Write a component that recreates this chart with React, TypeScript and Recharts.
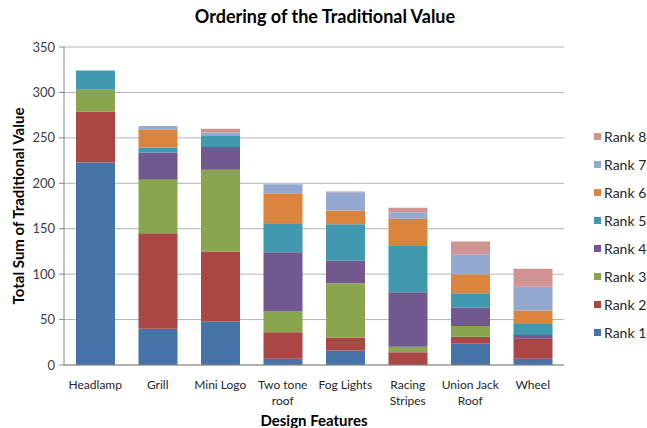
import React from 'react';
import { BarChart, Bar, XAxis, YAxis, CartesianGrid } from 'recharts';

const categories = ['Headlamp', 'Grill', 'Mini Logo', 'Two tone roof', 'Fog Lights', 'Racing Stripes', 'Union Jack Roof', 'Wheel'];
const rank1 = [223, 40, 48, 7, 16, 0, 24, 7];
const rank2 = [56, 105, 77, 29, 14, 14, 7, 22];
const rank3 = [24, 59, 90, 23, 60, 6, 12, 0];
const rank4 = [0, 30, 25, 65, 25, 60, 20, 4];
const rank5 = [21, 5, 12, 32, 40, 51, 16, 12];
const rank6 = [0, 20, 0, 33, 15, 30, 21, 15];
const rank7 = [0, 4, 4, 10, 20, 7, 22, 26];
const rank8 = [0, 0, 4, 0, 1, 5, 14, 20];
const yTicks = [0, 50, 100, 150, 200, 250, 300, 350];

const series = [
  { key: 'Rank 1', values: rank1, color: '#4572A7' },
  { key: 'Rank 2', values: rank2, color: '#AA4643' },
  { key: 'Rank 3', values: rank3, color: '#89A54E' },
  { key: 'Rank 4', values: rank4, color: '#71588F' },
  { key: 'Rank 5', values: rank5, color: '#4198AF' },
  { key: 'Rank 6', values: rank6, color: '#DB843D' },
  { key: 'Rank 7', values: rank7, color: '#93A9CF' },
  { key: 'Rank 8', values: rank8, color: '#D19392' },
];

const data = categories.map((name, i) => {
  const row: Record<string, string | number> = { name };
  series.forEach((s) => { row[s.key] = s.values[i]; });
  return row;
});

const FONT = 'Lato, "Noto Sans", sans-serif';

// wrap long category names onto two lines like excel does
function CategoryTick(props: any) {
  const { x, y, payload } = props;
  const label: string = payload.value;
  let lines = [label];
  if (label.length > 10) {
    const cut = label.lastIndexOf(' ');
    lines = [label.slice(0, cut), label.slice(cut + 1)];
  }
  return (
    <text x={x} y={y + 16} textAnchor="middle" fontSize={12} fill="#262626" fontFamily={FONT}>
      {lines.map((l, i) => (
        <tspan key={i} x={x} dy={i === 0 ? 0 : 16}>{l}</tspan>
      ))}
    </text>
  );
}

function RankLegend() {
  return (
    <div style={{ position: 'absolute', left: 594, top: 122, fontSize: 14, color: '#262626' }}>
      {[...series].reverse().map((s) => (
        <div key={s.key} style={{ display: 'flex', alignItems: 'center', height: 28, whiteSpace: 'nowrap' }}>
          <span style={{ width: 7, height: 7, background: s.color, marginRight: 3 }} />
          {s.key}
        </div>
      ))}
    </div>
  );
}

export default function App() {
  return (
    <div style={{ position: 'absolute', left: 0, top: 0, width: 647, height: 428, background: '#fff', fontFamily: FONT, overflow: 'hidden' }}>
      <div style={{ position: 'absolute', left: 0, top: 5, width: 650, textAlign: 'center', fontSize: 18, fontWeight: 'bold', color: '#000' }}>
        Ordering of the Traditional Value
      </div>
      <BarChart width={647} height={428} data={data} margin={{ top: 47, right: 83, bottom: 0, left: 0 }} barSize={39}>
        <CartesianGrid vertical={false} stroke="#b3b3b3" />
        <XAxis
          dataKey="name"
          height={63}
          stroke="#868686"
          tickLine={false}
          interval={0}
          tick={<CategoryTick />}
          label={{ value: 'Design Features', position: 'insideBottom', offset: 2, fontSize: 15, fontWeight: 'bold', fill: '#000', fontFamily: FONT }}
        />
        <YAxis
          width={64}
          domain={[0, 350]}
          ticks={yTicks}
          stroke="#868686"
          tickSize={5}
          tickMargin={4}
          tick={{ fontSize: 13, fill: '#404040', fontFamily: FONT }}
          label={{ value: 'Total Sum of Traditional Value', angle: -90, position: 'insideLeft', offset: 19, fontSize: 15, fontWeight: 'bold', fill: '#000', fontFamily: FONT, style: { textAnchor: 'middle' } }}
        />
        {series.map((s) => (
          <Bar key={s.key} dataKey={s.key} stackId="a" fill={s.color} isAnimationActive={false} />
        ))}
      </BarChart>
      <RankLegend />
    </div>
  );
}
